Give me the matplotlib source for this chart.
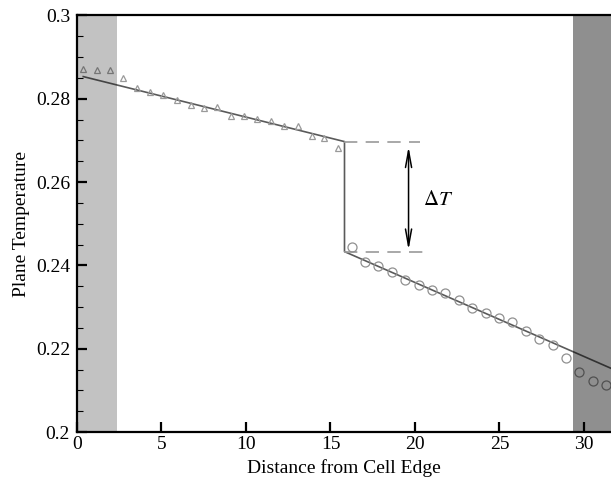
import matplotlib
matplotlib.use('Agg')
import matplotlib.pyplot as plt
from matplotlib.ticker import MultipleLocator

plt.rcParams['font.family'] = ['Liberation Serif', 'DejaVu Serif']
plt.rcParams['mathtext.fontset'] = 'stix'

# triangles (left half) and circles (right half)
tri_x = [0.37, 1.17, 1.95, 2.74, 3.53, 4.32, 5.11, 5.90, 6.73, 7.52,
         8.31, 9.10, 9.89, 10.67, 11.49, 12.27, 13.07, 13.90, 14.64, 15.44]
tri_y = [0.2871, 0.2869, 0.2869, 0.2849, 0.2825, 0.2817, 0.2810, 0.2797, 0.2785, 0.2778,
         0.2779, 0.2759, 0.2759, 0.2751, 0.2747, 0.2734, 0.2735, 0.2711, 0.2705, 0.2682]

circ_x = [16.26, 17.05, 17.84, 18.63, 19.42, 20.21, 21.00, 21.79, 22.58, 23.40,
          24.20, 24.98, 25.77, 26.57, 27.35, 28.14, 28.93, 29.72, 30.51, 31.30]
circ_y = [0.2443, 0.2409, 0.2398, 0.2385, 0.2366, 0.2354, 0.2341, 0.2334, 0.2317, 0.2297,
          0.2286, 0.2274, 0.2265, 0.2243, 0.2223, 0.2209, 0.2178, 0.2145, 0.2122, 0.2113]

# piecewise fit line with the jump at the interface
fit_x = [0.37, 15.83, 15.83, 32.5]
fit_y = [0.2853, 0.2697, 0.2433, 0.2137]

# dashed guides and the delta-T arrow
jump_x = 15.83
top_dash = (0.2695, 20.27)
bot_dash = (0.2431, 20.70)
arrow_x = 19.62
arrow_y = (0.2685, 0.2437)

# shaded end regions
left_band = (0, 2.39)
right_band = (29.37, 40)

fig = plt.figure(figsize=(6.11, 4.79), dpi=100)
ax = fig.add_axes([0.126, 0.098, 0.874, 0.870])

ax.plot(fit_x, fit_y, color='#5a5a5a', lw=1.2, zorder=2)
ax.plot(tri_x, tri_y, ls='none', marker='^', ms=4.5, mfc='none', mec='#9a9a9a', mew=0.9, zorder=3)
ax.plot(circ_x, circ_y, ls='none', marker='o', ms=6.5, mfc='none', mec='#909090', mew=0.9, zorder=3)

# bands sit over the data, translucent, so the marks show through darker
ax.axvspan(*left_band, color='black', alpha=0.24, lw=0, zorder=4)
ax.axvspan(*right_band, color='black', alpha=0.44, lw=0, zorder=4)

ax.plot([jump_x, top_dash[1]], [top_dash[0]] * 2, color='#9a9a9a', lw=1.2, dashes=(8, 5), zorder=2)
ax.plot([jump_x, bot_dash[1]], [bot_dash[0]] * 2, color='#9a9a9a', lw=1.2, dashes=(8, 5), zorder=2)

ax.annotate('', xy=(arrow_x, arrow_y[1]), xytext=(arrow_x, arrow_y[0]),
            arrowprops=dict(arrowstyle='<->,head_length=1.2,head_width=0.22',
                            color='black', lw=1.1, shrinkA=0, shrinkB=0))
ax.text(20.5, 0.2555, r'$\Delta T$', fontsize=15, va='center', ha='left')

ax.set_xlim(0, 31.6)
ax.set_ylim(0.2, 0.3)
ax.xaxis.set_major_locator(MultipleLocator(5))
ax.yaxis.set_minor_locator(MultipleLocator(0.005))
ax.set_yticks([0.2, 0.22, 0.24, 0.26, 0.28, 0.3])
ax.set_yticklabels(['0.2', '0.22', '0.24', '0.26', '0.28', '0.3'])

ax.tick_params(axis='both', which='major', direction='in', length=7, width=1.6,
               labelsize=14, pad=5)
ax.tick_params(axis='y', which='minor', direction='in', length=4, width=0.8)
ax.tick_params(axis='x', which='major', pad=3)

for s in ['left', 'bottom', 'top']:
    ax.spines[s].set_linewidth(1.6)
    ax.spines[s].set_zorder(5)
ax.spines['right'].set_visible(False)

ax.set_xlabel('Distance from Cell Edge', fontsize=14, labelpad=4)
ax.set_ylabel('Plane Temperature', fontsize=14, labelpad=4)

fig.savefig('out.png', dpi=100)
